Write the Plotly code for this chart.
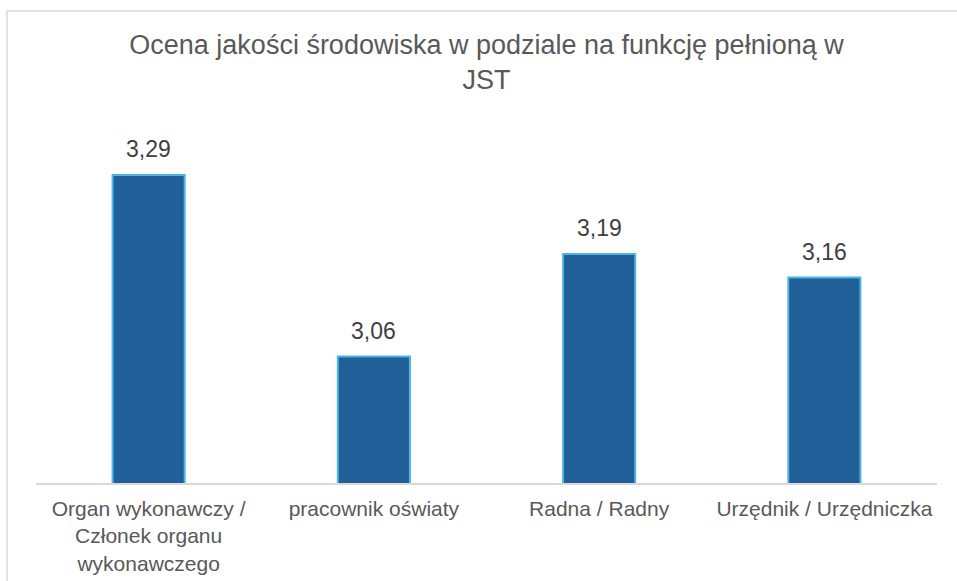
import plotly.graph_objects as go

categories = ["Organ wykonawczy /<br>Członek organu<br>wykonawczego",
              "pracownik oświaty",
              "Radna / Radny",
              "Urzędnik / Urzędniczka"]
values = [3.29, 3.06, 3.19, 3.16]
title_text = "Ocena jakości środowiska w podziale na funkcję pełnioną w<br>JST"

W, H = 957, 581
ml, mr, mt, mb = 36, 20, 88, 98
pw = W - ml - mr
ph = H - mt - mb

fig = go.Figure()
fig.add_trace(go.Bar(
    x=categories, y=values,
    marker=dict(color="#215F99", line=dict(color="#4CB4E6", width=2)),
    hoverinfo="skip",
))

for c, v in zip(categories, values):
    fig.add_annotation(x=c, y=v, text=f"{v:.2f}".replace(".", ","),
                       showarrow=False, yanchor="bottom", yshift=11,
                       font=dict(family="Liberation Sans, Arial", size=23, color="#404040"))

# chart border (only top/left visible in the frame)
fig.add_shape(type="rect", xref="paper", yref="paper",
              x0=(7 - ml) / pw, x1=(W + 20 - ml) / pw,
              y0=(H - mb - (H + 20)) / ph, y1=(H - mb - 11) / ph,
              line=dict(color="#d9d9d9", width=1.5), layer="below")

fig.update_layout(
    width=W, height=H,
    margin=dict(l=ml, r=mr, t=mt, b=mb, autoexpand=False),
    paper_bgcolor="white", plot_bgcolor="white",
    separators=", ",
    bargap=0.68,
    showlegend=False,
    title=dict(text=title_text, x=0.5, xanchor="center", xref="paper",
               y=1 - 54 / H, yanchor="top", yref="container",
               font=dict(family="Liberation Sans, Arial", size=27, color="#595959")),
    xaxis=dict(showline=True, linecolor="#d9d9d9", linewidth=1.5, ticks="",
               ticklabelstandoff=6, automargin=False,
               tickfont=dict(family="Liberation Sans, Arial", size=21, color="#595959"),
               showgrid=False),
    yaxis=dict(range=[2.9, 3.4], visible=False, showgrid=False, zeroline=False,
               automargin=False),
)

fig.write_html("out.html", config={"displayModeBar": False},
               post_script="document.body.style.margin='0';")
